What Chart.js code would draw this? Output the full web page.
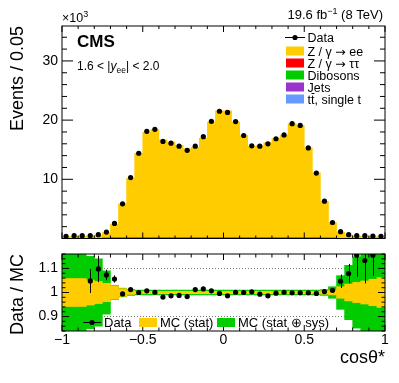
<!DOCTYPE html>
<html>
<head>
<meta charset="utf-8">
<script src="https://cdn.jsdelivr.net/npm/chart.js@4.4.1/dist/chart.umd.min.js"></script>
<style>
  html, body { margin: 0; padding: 0; background: #fff; }
  #wrap { position: relative; width: 399px; height: 383px; }
  canvas { position: absolute; left: 0; }
  #top { top: 0; }
  #bot { top: 245px; }
</style>
</head>
<body>
<div id="wrap">
  <canvas id="top" width="399" height="245"></canvas>
  <canvas id="bot" width="399" height="138"></canvas>
</div>
<script>
// cos(theta*) distribution, 1.6 < |y_ee| < 2.0, with a data/MC ratio panel below.
const FONT = '"Liberation Sans", Arial, sans-serif';
const SYM = '"DejaVu Sans", sans-serif';

const BIN_CENTERS = [
  "-0.975", "-0.925", "-0.875", "-0.825", "-0.775", "-0.725", "-0.675", "-0.625", "-0.575", "-0.525",
  "-0.475", "-0.425", "-0.375", "-0.325", "-0.275", "-0.225", "-0.175", "-0.125", "-0.075", "-0.025",
  "0.025", "0.075", "0.125", "0.175", "0.225", "0.275", "0.325", "0.375", "0.425", "0.475",
  "0.525", "0.575", "0.625", "0.675", "0.725", "0.775", "0.825", "0.875", "0.925", "0.975"
];

// events per bin, x10^3
const DATA = [
  0.37, 0.47, 0.47, 0.47, 0.64, 1.09, 2.55, 5.85, 10.3, 14.4,
  18.1, 18.45, 16.4, 16.1, 15.6, 14.9, 15.6, 17.2, 19.8, 21.5,
  21.3, 19.75, 17.4, 15.65, 15.6, 16.0, 16.85, 17.5, 19.4, 19.1,
  15.3, 11.05, 6.3, 2.7, 1.15, 0.64, 0.47, 0.47, 0.4, 0.37
];
const ZEE = [
  0.28, 0.36, 0.36, 0.43, 0.54, 0.93, 2.27, 5.72, 10.02, 14.22,
  17.8, 18.25, 16.54, 16.15, 15.61, 15.0, 15.26, 16.79, 19.5, 21.43,
  21.44, 19.57, 17.24, 15.44, 15.55, 16.07, 16.74, 17.32, 19.26, 18.96,
  15.17, 10.98, 6.18, 2.62, 1.06, 0.56, 0.39, 0.39, 0.33, 0.28
];
const ZTT = [
  0, 0, 0, 0, 0.01, 0.01, 0.01, 0.01, 0.01, 0.01,
  0.01, 0.01, 0.01, 0.01, 0.01, 0.01, 0.01, 0.01, 0.01, 0.01,
  0.01, 0.01, 0.01, 0.01, 0.01, 0.01, 0.01, 0.01, 0.01, 0.01,
  0.01, 0.01, 0.01, 0.01, 0, 0, 0, 0, 0, 0
];
const DIBOSON = [
  0, 0, 0, 0, 0.01, 0.04, 0.08, 0.1, 0.11, 0.12,
  0.12, 0.12, 0.12, 0.12, 0.12, 0.11, 0.11, 0.11, 0.11, 0.11,
  0.11, 0.11, 0.11, 0.11, 0.11, 0.11, 0.11, 0.11, 0.11, 0.11,
  0.1, 0.08, 0.06, 0.04, 0.02, 0.01, 0.01, 0.01, 0.01, 0.01
];
const JETS = [
  0, 0, 0, 0, 0, 0.01, 0.01, 0.01, 0.01, 0.01,
  0.01, 0.01, 0.01, 0.01, 0.01, 0.01, 0.01, 0.01, 0.01, 0.01,
  0.01, 0.01, 0.01, 0.01, 0.01, 0.01, 0.01, 0.01, 0.01, 0.01,
  0.01, 0.01, 0.01, 0.01, 0.01, 0, 0, 0, 0, 0
];
const TTBAR = [
  0, 0, 0, 0, 0, 0, 0.01, 0.01, 0.01, 0.01,
  0.01, 0.01, 0.01, 0.01, 0.01, 0.01, 0.01, 0.01, 0.01, 0.01,
  0.01, 0.01, 0.01, 0.01, 0.01, 0.01, 0.01, 0.01, 0.01, 0.01,
  0.01, 0.01, 0.01, 0, 0, 0, 0, 0, 0, 0
];

// data / MC; null where the point falls outside the panel
const RATIO = [
  null, null, null, 1.048, 1.098, 1.073, 1.056, 0.994, 1.012, 1.0,
  1.007, 1.001, 0.981, 0.986, 0.988, 0.983, 1.012, 1.015, 1.007, 0.996,
  0.986, 1.001, 1.0, 1.003, 0.993, 0.986, 0.997, 1.001, 0.999, 0.999,
  0.999, 0.996, 1.004, 1.009, 1.047, 1.079, 1.155, 1.133, 1.155, null
];
const RATIO_ERR = [
  0, 0, 0, 0.05, 0.055, 0.022, 0.015, 0.004, 0.004, 0.004,
  0.004, 0.004, 0.004, 0.004, 0.004, 0.004, 0.004, 0.004, 0.004, 0.004,
  0.004, 0.004, 0.004, 0.004, 0.004, 0.004, 0.004, 0.004, 0.004, 0.004,
  0.004, 0.004, 0.005, 0.008, 0.028, 0.04, 0.09, 0.095, 0.085, 0
];
// half widths of the MC uncertainty bands around 1
const MC_STAT = [
  0.058, 0.058, 0.058, 0.052, 0.046, 0.038, 0.028, 0.016, 0.008, 0.005,
  0.005, 0.005, 0.005, 0.005, 0.005, 0.005, 0.005, 0.005, 0.005, 0.005,
  0.005, 0.005, 0.005, 0.005, 0.005, 0.005, 0.005, 0.005, 0.005, 0.005,
  0.005, 0.005, 0.007, 0.01, 0.024, 0.035, 0.042, 0.048, 0.055, 0.062
];
const MC_TOTAL = [
  0.3, 0.3, 0.3, 0.15, 0.14, 0.09, 0.03, 0.018, 0.012, 0.01,
  0.01, 0.01, 0.01, 0.01, 0.01, 0.01, 0.01, 0.01, 0.01, 0.01,
  0.01, 0.01, 0.01, 0.01, 0.01, 0.01, 0.01, 0.01, 0.01, 0.01,
  0.01, 0.01, 0.012, 0.024, 0.07, 0.113, 0.148, 0.3, 0.3, 0.3
];

const C_ZEE = "#ffcc00", C_ZTT = "#ff0000", C_DIB = "#00cc00", C_JETS = "#9933cc", C_TT = "#6699ff";

Chart.defaults.font.family = FONT;
Chart.defaults.color = "#000";

// Frame plus ROOT-style inward ticks on all four sides.
const frameTicks = {
  id: "frameTicks",
  afterDatasetsDraw(chart, args, o) {
    const { ctx, chartArea: a } = chart;
    const xs = chart.scales.x, ys = chart.scales.y;
    ctx.save();
    ctx.strokeStyle = "#000";
    ctx.lineWidth = 1;
    ctx.beginPath();
    const near = (v, step) => Math.abs(v / step - Math.round(v / step)) < 1e-6;
    for (let k = Math.ceil(xs.min / o.xMinor - 1e-6); k * o.xMinor <= xs.max + 1e-9; k++) {
      const v = k * o.xMinor;
      const L = near(v, o.xMajor) ? o.xLen[0] : o.xLen[1];
      const px = xs.getPixelForValue(v);
      ctx.moveTo(px, a.bottom); ctx.lineTo(px, a.bottom - L);
      ctx.moveTo(px, a.top); ctx.lineTo(px, a.top + L);
    }
    for (let k = Math.ceil(ys.min / o.yMinor - 1e-6); k * o.yMinor <= ys.max + 1e-9; k++) {
      const v = k * o.yMinor;
      const L = near(v, o.yMajor) ? o.yLen[0] : o.yLen[1];
      const py = ys.getPixelForValue(v);
      ctx.moveTo(a.left, py); ctx.lineTo(a.left + L, py);
      ctx.moveTo(a.right, py); ctx.lineTo(a.right - L, py);
    }
    ctx.stroke();
    ctx.strokeRect(a.left, a.top, a.right - a.left, a.bottom - a.top);
    ctx.restore();
  },
};

function richText(ctx, parts, x, y, align) {
  // parts: [text, font, dy]
  let w = 0;
  parts.forEach(([t, f]) => { ctx.font = f; w += ctx.measureText(t).width; });
  let cx = align === "right" ? x - w : x;
  ctx.textAlign = "left";
  parts.forEach(([t, f, dy]) => {
    ctx.font = f;
    ctx.fillText(t, cx, y + (dy || 0));
    cx += ctx.measureText(t).width;
  });
}

const LF = `12.5px ${FONT}`, LS = `12.5px ${SYM}`;
const LEGEND_TOP = [
  [["Data", LF]],
  [["Z / \u03b3 ", LF], ["\u2192", LS], [" ee", LF]],
  [["Z / \u03b3 ", LF], ["\u2192", LS], [" \u03c4\u03c4", LF]],
  [["Dibosons", LF]],
  [["Jets", LF]],
  [["tt, single t", LF]],
];
const LEGEND_TOP_COLORS = [null, C_ZEE, C_ZTT, C_DIB, C_JETS, C_TT];
const LEGEND_TOP_ROWS = [37, 51, 63, 75, 87, 99];

const topText = {
  id: "topText",
  afterDraw(chart) {
    const ctx = chart.ctx;
    ctx.save();
    ctx.fillStyle = "#000";
    ctx.textBaseline = "alphabetic";
    richText(ctx, [["\u00d710", `12.5px ${FONT}`], ["3", `9px ${FONT}`, -5]], 62, 22, "left");
    richText(ctx, [["19.6 fb", `13px ${FONT}`], ["\u22121", `9px ${FONT}`, -5], [" (8 TeV)", `13px ${FONT}`]], 383, 19, "right");
    ctx.font = `bold 17px ${FONT}`;
    ctx.fillText("CMS", 77, 47);
    richText(ctx, [
      ["1.6 < |", `12px ${FONT}`],
      ["y", `italic 12px ${FONT}`],
      ["ee", `8.5px ${FONT}`, 3],
      ["| < 2.0", `12px ${FONT}`],
    ], 77, 70, "left");

    // legend
    LEGEND_TOP.forEach((parts, i) => {
      const y = LEGEND_TOP_ROWS[i];
      if (LEGEND_TOP_COLORS[i]) {
        ctx.fillStyle = LEGEND_TOP_COLORS[i];
        ctx.fillRect(286, y - 4.5, 18, 9);
      } else {
        ctx.strokeStyle = "#000";
        ctx.lineWidth = 1;
        ctx.beginPath(); ctx.moveTo(285, y + 0.5); ctx.lineTo(305, y + 0.5); ctx.stroke();
        ctx.fillStyle = "#000";
        ctx.beginPath(); ctx.arc(295, y + 0.5, 2.6, 0, Math.PI * 2); ctx.fill();
      }
      ctx.fillStyle = "#000";
      richText(ctx, parts, 307.5, y + 4.5, "left");
      if (i === 5) {
        // bar over the second t
        ctx.font = LF;
        const w1 = ctx.measureText("t").width, w2 = ctx.measureText("tt").width;
        ctx.fillRect(307.5 + w1 + 0.5, y + 4.5 - 10.5, w2 - w1 - 0.5, 1);
      }
    });
    ctx.restore();
  },
};

const LEGEND_BOT = ["Data", "MC (stat)", "MC (stat \u2295 sys)"];
const botText = {
  id: "botText",
  afterDraw(chart) {
    const ctx = chart.ctx;
    const y = 77.5;
    ctx.save();
    ctx.textBaseline = "alphabetic";
    ctx.font = `13px ${FONT}`;
    ctx.strokeStyle = "#000";
    ctx.lineWidth = 1;
    ctx.beginPath(); ctx.moveTo(83, y); ctx.lineTo(101, y); ctx.stroke();
    ctx.fillStyle = "#000";
    ctx.beginPath(); ctx.arc(92, y, 2.6, 0, Math.PI * 2); ctx.fill();
    ctx.fillText(LEGEND_BOT[0], 104, y + 4.5);
    ctx.fillStyle = C_ZEE; ctx.fillRect(139, y - 4.5, 18, 9);
    ctx.fillStyle = "#000"; ctx.fillText(LEGEND_BOT[1], 160, y + 4.5);
    ctx.fillStyle = C_DIB; ctx.fillRect(217, y - 4.5, 18, 9);
    ctx.fillStyle = "#000"; ctx.fillText(LEGEND_BOT[2], 238, y + 4.5);
    ctx.restore();
  },
};

// Vertical error bars on the ratio points.
const errorBars = {
  id: "errorBars",
  afterDatasetsDraw(chart) {
    const { ctx, chartArea: a } = chart;
    const xc = chart.scales.xc, ys = chart.scales.y;
    ctx.save();
    ctx.beginPath(); ctx.rect(a.left, a.top, a.right - a.left, a.bottom - a.top); ctx.clip();
    ctx.strokeStyle = "#000";
    ctx.lineWidth = 1;
    ctx.beginPath();
    RATIO.forEach((r, i) => {
      if (r == null || !RATIO_ERR[i]) return;
      const px = Math.round(xc.getPixelForValue(i)) + 0.5;
      ctx.moveTo(px, ys.getPixelForValue(r - RATIO_ERR[i]));
      ctx.lineTo(px, ys.getPixelForValue(r + RATIO_ERR[i]));
    });
    ctx.stroke();
    ctx.restore();
  },
};

function stackBars(label, data, color) {
  return {
    type: "bar", label, data, backgroundColor: color, borderWidth: 0,
    xAxisID: "xc", barPercentage: 1, categoryPercentage: 1, stack: "mc", order: 1,
  };
}

function dataPoints(data) {
  return {
    type: "line", label: "Data", data, xAxisID: "xc", stack: "data", order: 0,
    showLine: false, pointRadius: 2.6, pointBackgroundColor: "#000", pointBorderWidth: 0,
  };
}

const yTitle = (text) => ({
  display: true, text, align: "end", color: "#000",
  font: { family: FONT, size: 18 }, padding: { top: 7, bottom: 0 },
});

new Chart(document.getElementById("top"), {
  type: "bar",
  data: {
    labels: BIN_CENTERS,
    datasets: [
      dataPoints(DATA),
      stackBars("Dibosons", DIBOSON, C_DIB),
      stackBars("tt, single t", TTBAR, C_TT),
      stackBars("Jets", JETS, C_JETS),
      stackBars("Z/g->tautau", ZTT, C_ZTT),
      stackBars("Z/g->ee", ZEE, C_ZEE),
    ],
  },
  options: {
    responsive: false,
    animation: false,
    events: [],
    layout: { padding: { left: 0, right: 14, top: 26, bottom: 6.5 } },
    plugins: {
      legend: { display: false },
      tooltip: { enabled: false },
      frameTicks: { xMinor: 0.1, xMajor: 0.5, xLen: [6, 3], yMinor: 2, yMajor: 10, yLen: [11, 5] },
    },
    scales: {
      xc: { type: "category", display: false, stacked: true },
      x: { type: "linear", display: false, min: -1, max: 1, offset: false },
      y: {
        type: "linear", position: "left", min: 0, max: 35.9, stacked: true,
        grid: { display: false, drawTicks: false },
        border: { display: false },
        ticks: {
          stepSize: 10, includeBounds: false, padding: 4, color: "#000",
          font: { family: FONT, size: 14 },
          callback: (v) => (v === 0 ? "" : String(v)),
        },
        title: yTitle("Events / 0.05"),
        afterFit: (s) => { s.width = 62; s.paddingTop = 0; s.paddingBottom = 0; },
      },
    },
  },
  plugins: [frameTicks, topText],
});

new Chart(document.getElementById("bot"), {
  type: "bar",
  data: {
    labels: BIN_CENTERS,
    datasets: [
      dataPoints(RATIO),
      {
        type: "bar", label: "MC (stat)", xAxisID: "xc",
        data: MC_STAT.map((s) => [1 - s, 1 + s]),
        backgroundColor: C_ZEE, borderWidth: 0, grouped: false,
        barPercentage: 1, categoryPercentage: 1,
      },
      {
        type: "bar", label: "MC (stat + sys)", xAxisID: "xc",
        data: MC_TOTAL.map((s) => [1 - s, 1 + s]),
        backgroundColor: C_DIB, borderWidth: 0, grouped: false,
        barPercentage: 1, categoryPercentage: 1,
      },
    ],
  },
  options: {
    responsive: false,
    animation: false,
    events: [],
    layout: { padding: { left: 0, right: 14, top: 9, bottom: 0 } },
    plugins: {
      legend: { display: false },
      tooltip: { enabled: false },
      frameTicks: { xMinor: 0.1, xMajor: 0.5, xLen: [6, 3.5], yMinor: 0.02, yMajor: 0.1, yLen: [7, 3.5] },
    },
    scales: {
      xc: { type: "category", display: false },
      x: {
        type: "linear", position: "bottom", min: -1, max: 1, offset: false,
        grid: { display: false, drawTicks: false, offset: false },
        border: { display: false },
        ticks: {
          stepSize: 0.5, padding: 1, color: "#000", autoSkip: false, maxRotation: 0,
          font: { family: FONT, size: 14 },
          callback: (v) => (v < 0 ? "\u2212" + String(-v) : String(v)),
        },
        title: {
          display: true, text: "cos\u03b8*", align: "end", color: "#000",
          font: { family: FONT, size: 18 }, padding: { top: 0, bottom: 14 },
        },
        afterFit: (s) => { s.height = 52; s.paddingLeft = 0; s.paddingRight = 0; },
      },
      y: {
        type: "linear", position: "left", min: 0.84, max: 1.16,
        grid: { display: true, drawTicks: false, color: "#777", lineWidth: 1 },
        border: { display: false, dash: [1, 2] },
        ticks: {
          stepSize: 0.1, includeBounds: false, padding: 4, color: "#000",
          font: { family: FONT, size: 14 },
          callback: (v) => String(+v.toFixed(2)),
        },
        title: yTitle("Data / MC"),
        afterFit: (s) => { s.width = 62; s.paddingTop = 0; s.paddingBottom = 0; },
      },
    },
  },
  plugins: [frameTicks, errorBars, botText],
});
</script>
</body>
</html>
